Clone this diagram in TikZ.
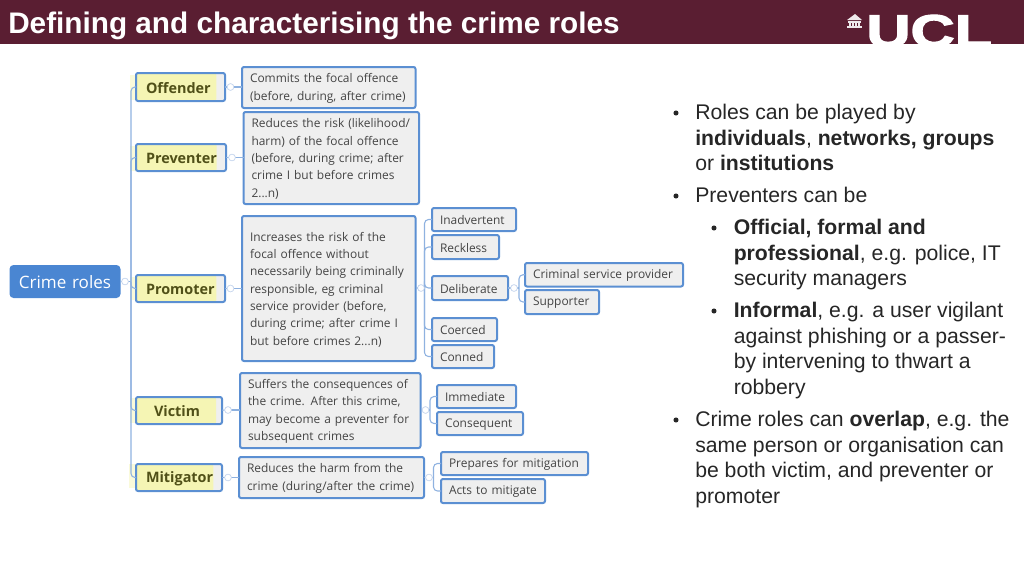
\documentclass[tikz,border=0pt]{standalone}
\usepackage{fontspec}
\setmainfont{Liberation Sans}
\newfontfamily\mapfont{Open Sans}
\newfontfamily\logofont[FakeBold=2.5]{Liberation Sans Bold}
\usepackage{xcolor}
\definecolor{barred}{HTML}{5A1E32}
\definecolor{mapblue}{HTML}{5B8FD2}
\definecolor{rootblue}{HTML}{4A86D2}
\definecolor{linkblue}{HTML}{8FB2E0}
\definecolor{foldblue}{HTML}{C9D8EF}
\definecolor{boxgrey}{HTML}{EFEFEF}
\definecolor{roleyellow}{HTML}{F5F5B4}
\definecolor{maptext}{HTML}{444444}
\definecolor{roletext}{HTML}{505018}
\tikzset{
	mapbase/.style={rectangle, rounded corners=1.5pt, draw=mapblue, line width=1.5pt, fill=boxgrey, inner xsep=0pt, inner ysep=0pt, outer sep=0pt},
	descbox/.style={mapbase, font=\mapfont\fontsize{8.95pt}{13pt}\selectfont, text=maptext, align=left},
	subbox/.style={descbox},
	rolebox/.style={mapbase, font=\mapfont\bfseries\fontsize{10.8pt}{13pt}\selectfont, text=roletext, align=left},
	rootbox/.style={mapbase, draw=none, rounded corners=3pt, fill=rootblue, text=white, font=\mapfont\fontsize{12.8pt}{14pt}\selectfont, align=center},
	fold/.style={circle, draw=foldblue, fill=white, line width=.5pt, minimum size=5pt, inner sep=0pt, outer sep=0pt},
	link/.style={draw=linkblue, line width=.8pt, rounded corners=3pt},
	bulletlist/.style={anchor=north west, inner sep=0pt, align=left, text=black!85, font=\fontsize{15.9pt}{19.2pt}\selectfont},
	bulletdot/.style={circle, fill=black!85, minimum size=3.8pt, inner sep=0pt},
}
% name, style, left, top, right, bottom (in pixels of the slide), left padding, text
\newcommand{\mapbox}[8]{
	\pgfmathsetmacro{\boxw}{(#5-#3)*.75}
	\pgfmathsetmacro{\boxh}{(#6-#4)*.75}
	\pgfmathsetmacro{\boxt}{(#5-#3-#7)*.75}
	\node[#2, minimum height=\boxh pt, minimum width=\boxw pt] (#1) at ({(#3+#5)/2}, {(#4+#6)/2}) {};
	\node[#2, draw=none, fill=none, path picture={}, anchor=west, text width=\boxt pt] at ({#3+#7}, {(#4+#6)/2+1}) {#8};
}
\begin{document}
\begin{tikzpicture}[x=.75pt, y=-.75pt]
	\useasboundingbox (0, 0) rectangle (1024, 576);
	% Title bar and logo:
	\fill[barred] (0, 0) rectangle (1024, 44);
	\node[anchor=base west, inner sep=0pt, text=white, font=\bfseries\fontsize{22.3pt}{24pt}\selectfont] (title) at (8, 33) {Defining and characterising the crime roles};
	\begin{scope}
		\clip (0, 0) rectangle (1024, 44);
		\node[anchor=base west, inner sep=0pt, text=white, xscale=1.33, transform shape, font=\logofont\fontsize{34.5pt}{36pt}\selectfont] (logo) at (866, 47) {UCL};
	\end{scope}
	\fill[white!90!barred] (847, 20) -- (855, 14) -- (862, 20) -- cycle;
	\fill[white!90!barred] (848, 21) rectangle (861, 22.5);
	\foreach \xx in {849, 852, 855, 858}
		\fill[white!90!barred] (\xx, 22.5) rectangle ++(1.8, 3.5);
	\fill[white!90!barred] (847, 26) rectangle (862, 28);

	% Left part of the map:
	\fill[roleyellow!50!white] (130, 75) rectangle (136, 100);
	\fill[roleyellow!50!white] (130, 146) rectangle (136, 171);
	\fill[roleyellow!50!white] (130, 277) rectangle (136, 300);
	\fill[roleyellow!50!white] (130, 398) rectangle (136, 423);
	\fill[roleyellow!50!white] (129, 464) rectangle (136, 488);

	\mapbox{root}{rootbox}{9.5}{265}{120.5}{298}{0}{Crime roles}
	\mapbox{offender}{rolebox, path picture={\fill[roleyellow] (path picture bounding box.north west) rectangle ([xshift=-6.5pt]path picture bounding box.south east);}}{136}{73}{225}{101}{10}{Offender}
	\mapbox{preventer}{rolebox, path picture={\fill[roleyellow] (path picture bounding box.north west) rectangle ([xshift=-7pt]path picture bounding box.south east);}}{136}{144}{226}{171}{10}{Preventer}
	\mapbox{promoter}{rolebox, path picture={\fill[roleyellow] (path picture bounding box.north west) rectangle ([xshift=-6.5pt]path picture bounding box.south east);}}{136}{275}{225}{302}{10}{Promoter}
	\mapbox{victim}{rolebox, path picture={\fill[roleyellow] (path picture bounding box.north west) rectangle ([xshift=-4.5pt]path picture bounding box.south east);}}{136}{397}{222}{424}{18}{Victim}
	\mapbox{mitigator}{rolebox, path picture={\fill[roleyellow] (path picture bounding box.north west) rectangle ([xshift=-6.5pt]path picture bounding box.south east);}}{136}{464}{222}{491}{10}{Mitigator}

	\mapbox{commits}{descbox}{242}{67}{415.5}{108}{8}{Commits the focal offence\\(before, during, after crime)}
	\mapbox{reduces}{descbox}{243.5}{112}{419}{204}{8}{Reduces the risk (likelihood/\\harm) of the focal offence\\(before, during crime; after\\crime I but before crimes\\2...n)}
	\mapbox{increases}{descbox}{242}{216}{415.5}{361}{8}{Increases the risk of the\\focal offence without\\necessarily being criminally\\responsible, eg criminal\\service provider (before,\\during crime; after crime I\\but before crimes 2...n)}
	\mapbox{suffers}{descbox}{240}{373}{420.5}{448}{8}{Suffers the consequences of\\the crime. After this crime,\\may become a preventer for\\subsequent crimes}
	\mapbox{harm}{descbox}{239}{457}{424}{498}{8}{Reduces the harm from the\\crime (during/after the crime)}

	% Right part of the map:
	\mapbox{inadvertent}{subbox}{432}{208}{516}{231}{8}{Inadvertent}
	\mapbox{reckless}{subbox}{432}{235}{499}{259}{8}{Reckless}
	\mapbox{deliberate}{subbox}{432}{276}{508}{300}{8}{Deliberate}
	\mapbox{coerced}{subbox}{432}{318}{497}{341}{8}{Coerced}
	\mapbox{conned}{subbox}{432}{345}{494}{368}{8}{Conned}
	\mapbox{service}{subbox}{525}{263}{683}{286.5}{8}{Criminal service provider}
	\mapbox{supporter}{subbox}{525}{290}{599}{314}{8}{Supporter}
	\mapbox{immediate}{subbox}{437}{385}{516}{408}{8}{Immediate}
	\mapbox{consequent}{subbox}{437}{412}{523}{435}{8}{Consequent}
	\mapbox{prepares}{subbox}{441}{452}{588}{475}{8}{Prepares for mitigation}
	\mapbox{acts}{subbox}{441}{479}{545}{503}{8}{Acts to mitigate}

	% Folds and spines:
	\node[fold] (foldroot) at (125, 281.5) {};
	\node[fold] (foldoff) at (230.5, 87) {};
	\node[fold] (foldpre) at (232, 157.5) {};
	\node[fold] (foldpro) at (230.5, 288.5) {};
	\node[fold] (foldvic) at (228, 410) {};
	\node[fold] (foldmit) at (228, 477.5) {};
	\node[fold] (foldinc) at (421, 288) {};
	\node[fold] (folddel) at (514, 288) {};
	\node[fold] (foldsuf) at (425.5, 410) {};
	\node[fold] (foldhar) at (429, 477.5) {};
	\coordinate (spineroot) at (131, 281.5);
	\coordinate (spineinc) at (424.5, 288);
	\coordinate (spinedel) at (519, 288);
	\coordinate (spinesuf) at (430, 410);
	\coordinate (spinehar) at (433.5, 477.5);

	\draw[link] (root.east |- foldroot) -- (foldroot);
	\draw[link] (foldroot) -- (spineroot);
	\foreach \nn in {offender, preventer, promoter, victim, mitigator}
		\draw[link] (spineroot) |- (\nn.west);
	\draw[link] (offender) -- (foldoff);
	\draw[link] (foldoff) -- (commits.west |- foldoff);
	\draw[link] (preventer) -- (foldpre);
	\draw[link] (foldpre) -- (reduces.west |- foldpre);
	\draw[link] (promoter.east) -- (foldpro);
	\draw[link] (foldpro) -- (increases.west |- foldpro);
	\draw[link] (victim) -- (foldvic);
	\draw[link] (foldvic) -- (suffers.west |- foldvic);
	\draw[link] (mitigator) -- (foldmit);
	\draw[link] (foldmit) -- (harm.west |- foldmit);
	\draw[link] (increases.east |- foldinc) -- (foldinc);
	\draw[link] (foldinc) -- (spineinc);
	\foreach \nn in {inadvertent, reckless, deliberate, coerced, conned}
		\draw[link] (spineinc) |- (\nn.west);
	\draw[link] (deliberate) -- (folddel);
	\draw[link] (folddel) -- (spinedel);
	\foreach \nn in {service, supporter}
		\draw[link] (spinedel) |- (\nn.west);
	\draw[link] (suffers.east |- foldsuf) -- (foldsuf);
	\draw[link] (foldsuf) -- (spinesuf);
	\foreach \nn in {immediate, consequent}
		\draw[link] (spinesuf) |- (\nn.west);
	\draw[link] (harm.east |- foldhar) -- (foldhar);
	\draw[link] (foldhar) -- (spinehar);
	\foreach \nn in {prepares, acts}
		\draw[link] (spinehar) |- (\nn.west);
	\foreach \nn in {foldroot, foldoff, foldpre, foldpro, foldvic, foldmit, foldinc, folddel, foldsuf, foldhar}
		\node[fold] at (\nn) {};

	% Bullets on the right:
	\node[bulletdot] (dota) at (676, 113) {};
	\node[bulletlist] (lista) at (695, 104) {Roles can be played by\\\textbf{individuals}, \textbf{networks, groups}\\or \textbf{institutions}};
	\node[bulletdot] (dotb) at (676, 196) {};
	\node[bulletlist] (listb) at (695, 187) {Preventers can be};
	\node[bulletdot] (dotc) at (714, 228) {};
	\node[bulletlist] (listc) at (733.5, 219) {\textbf{Official, formal and}\\\textbf{professional}, e.g. police, IT\\security managers};
	\node[bulletdot] (dotd) at (714, 311) {};
	\node[bulletlist] (listd) at (733.5, 302) {\textbf{Informal}, e.g. a user vigilant\\against phishing or a passer-\\by intervening to thwart a\\robbery};
	\node[bulletdot] (dote) at (676, 420) {};
	\node[bulletlist] (liste) at (695, 411) {Crime roles can \textbf{overlap}, e.g. the\\same person or organisation can\\be both victim, and preventer or\\promoter};
\end{tikzpicture}
\end{document}
